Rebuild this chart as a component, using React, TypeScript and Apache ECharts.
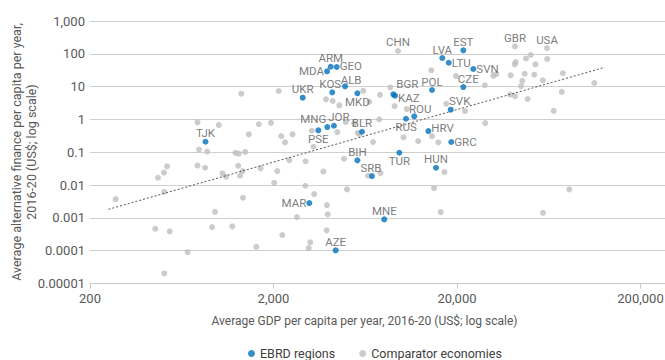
import React, { useEffect, useRef } from 'react';
import * as echarts from 'echarts';

// ---------- DATA ----------
const ebrdCodes = ['TJK','ARM','GEO','MDA','KOS','ALB','MKD','UKR','MNG','JOR','PSE','BLR','BGR','KAZ','ROU','RUS','BIH','SRB','TUR','EST','LVA','LTU','SVN','CZE','POL','SVK','HRV','GRC','HUN','MAR','MNE','AZE'];
const ebrdGdp = [852,4100,4420,3915,4180,4910,5730,2885,3930,4270,3510,6070,8990,9190,11700,10550,5730,6880,9700,21650,16630,18030,24550,21650,14620,18480,13960,18610,15370,3135,8030,4365];
const ebrdFinance = [0.209,40.4,39.6,29.3,6.7,10.2,6.25,4.59,0.586,0.643,0.465,0.422,5.82,5.28,1.24,1.05,0.0566,0.0188,0.0966,128,74.5,53.5,34.4,9.72,7.88,1.98,0.443,0.205,0.0337,0.00283,0.0009,0.000102];

const namedComparatorCodes = ['CHN','GBR','USA'];
const namedComparatorGdp = [9540,41400,61900];
const namedComparatorFinance = [122,169,150];

const otherComparatorGdp = [
  276,469,506,526,508,454,544,508,681,771,785,870,771,847,960,925,1006,
  1335,2135,1663,1938,1467,2204,2538,2310,1242,1292,1402,1284,1701,2098,2440,2992,1055,1102,1314,1357,3736,3234,3304,4455,4950,5494,5754,5870,6970,7534,4846,7658,6546,3864,4204,4568,6166,6646,7612,8660,9142,10650,10230,12290,2018,2984,1364,3334,5030,3912,3948,2686,1193,2234,3898,1612,3174,3110,
  14490,19750,17490,22120,28360,28500,14620,15820,17100,31540,32760,39240,41260,41780,47540,50420,53560,62020,46760,52760,45380,44660,58700,75460,39000,41420,48560,74420,67300,112000,14990,16300,58840,81860
];
const otherComparatorFinance = [
  0.00374,0.0167,0.024,0.0372,0.00625,0.000466,0.000387,0.0000203,0.0000906,0.816,0.121,0.105,0.0393,0.0337,0.00153,0.000525,0.675,
  6.08,7.35,0.714,0.787,0.351,0.308,0.351,0.2,0.0959,0.0906,0.102,0.0387,0.0323,0.0267,0.057,0.0532,0.0226,0.0179,0.0192,0.0267,0.0258,0.452,0.147,0.413,0.834,0.76,0.393,0.359,0.205,1.007,0.0634,0.0232,0.0192,4.1,3.64,2.69,7.45,3.44,5.62,9.52,2.56,2.07,0.285,0.219,0.0117,0.00953,0.0041,0.00532,0.0074,0.00246,0.00128,0.00106,0.000551,0.000299,0.000416,0.000131,0.000179,0.00012,
  31.4,21,3.01,1.8,11,0.776,0.312,0.2,0.0249,21.3,24.2,22.1,47.9,56.2,71.9,91.9,47.9,69.4,24.7,23.1,15,10.3,15.6,25.6,5.74,5.1,4.19,6.94,1.83,12.9,0.00811,0.0015,0.00143,0.0074
];

const trendGdp = [252, 127600];
const trendFinance = [0.00182, 38.7];

const xTickValues = [200, 2000, 20000, 200000];
const xTickLabels = ['200', '2,000', '20,000', '200,000'];
const yTickValues = [0.00001, 0.0001, 0.001, 0.01, 0.1, 1, 10, 100, 1000];
const yTickLabels = ['0.00001', '0.0001', '0.001', '0.01', '0.1', '1', '10', '100', '1,000'];

const seriesNames = ['EBRD regions', 'Comparator economies'];
const xTitle = 'Average GDP per capita per year, 2016-20 (US$; log scale)';
const yTitleLines = ['Average alternative finance per capita per year,', '2016-20 (US$; log scale)'];

// ---------- STYLES ----------
const FONT = "Roboto, 'Liberation Sans', sans-serif";
const BLUE = '#0072BC';
const GREY = '#BFBFBF';
const TEXT = '#595959';

const labelPlacement: Record<string, { position: string; offset?: number[] }> = {
  TJK: { position: 'top' }, ARM: { position: 'top' }, GEO: { position: 'right', offset: [0, -1] }, MDA: { position: 'left' },
  KOS: { position: 'top', offset: [-2, 0] }, ALB: { position: 'top', offset: [6, 2] }, MKD: { position: 'bottom' },
  UKR: { position: 'top' }, MNG: { position: 'top', offset: [-14, 0] }, JOR: { position: 'top', offset: [5, 0] },
  PSE: { position: 'bottom' }, BLR: { position: 'top' }, BGR: { position: 'right', offset: [0, -10] },
  KAZ: { position: 'right', offset: [0, 2] }, ROU: { position: 'top', offset: [6, 1] }, RUS: { position: 'bottom' },
  BIH: { position: 'top' }, SRB: { position: 'top', offset: [-1, 0] }, TUR: { position: 'bottom' },
  EST: { position: 'top' }, LVA: { position: 'top' }, LTU: { position: 'right' }, SVN: { position: 'right' },
  CZE: { position: 'top', offset: [5, 0] }, POL: { position: 'top' }, SVK: { position: 'top', offset: [9, 0] },
  HRV: { position: 'right', offset: [0, -3] }, GRC: { position: 'right' }, HUN: { position: 'top' },
  MAR: { position: 'left' }, MNE: { position: 'top' }, AZE: { position: 'top' },
  CHN: { position: 'top' }, GBR: { position: 'top' }, USA: { position: 'top' },
};

function labelFor(code: string) {
  const p = labelPlacement[code] || { position: 'top' };
  const vertical = p.position === 'top' || p.position === 'bottom';
  return {
    show: true,
    position: p.position,
    offset: p.offset || [0, 0],
    distance: vertical ? -0.5 : 0,
    formatter: code,
    fontFamily: FONT,
    fontSize: 11.5,
    color: TEXT,
  };
}

export default function App() {
  const ref = useRef<HTMLDivElement>(null);

  useEffect(() => {
    if (!ref.current) return;
    const chart = echarts.init(ref.current, undefined, { renderer: 'svg' });

    const ebrdData = ebrdCodes.map((c, i) => ({
      name: c,
      value: [ebrdGdp[i], ebrdFinance[i]],
      label: labelFor(c),
    }));
    const compData: any[] = namedComparatorCodes.map((c, i) => ({
      name: c,
      value: [namedComparatorGdp[i], namedComparatorFinance[i]],
      label: labelFor(c),
    }));
    otherComparatorGdp.forEach((g, i) => {
      compData.push({ value: [g, otherComparatorFinance[i]] });
    });

    const option: any = {
      animation: false,
      backgroundColor: '#ffffff',
      textStyle: { fontFamily: FONT },
      grid: { left: 90, right: 0, top: 21, bottom: 76.5, containLabel: false, outerBoundsMode: 'none' },
      graphic: yTitleLines.map((t, i) => ({
        type: 'text',
        x: 16 + i * 15,
        y: 152,
        rotation: Math.PI / 2,
        silent: true,
        style: {
          text: t,
          fontFamily: FONT,
          fontSize: 12.5,
          fill: TEXT,
          align: 'center',
          verticalAlign: 'middle',
        },
      })),
      legend: {
        data: seriesNames,
        left: 243,
        top: 342,
        icon: 'circle',
        itemWidth: 7,
        itemHeight: 7,
        itemGap: 24,
        textStyle: { fontFamily: FONT, fontSize: 12.5, color: '#404040' },
      },
      xAxis: {
        type: 'log',
        logBase: 10,
        min: 200,
        max: 272000,
        name: xTitle,
        nameLocation: 'middle',
        nameGap: 31,
        nameTextStyle: { fontFamily: FONT, fontSize: 12, color: TEXT, padding: [0, 26, 0, 0] },
        axisLine: { show: true, onZero: false, lineStyle: { color: '#c8c8c8', width: 1 } },
        axisTick: { show: true, length: 5, customValues: xTickValues, lineStyle: { color: '#c8c8c8' } },
        axisLabel: {
          customValues: xTickValues,
          margin: 8,
          fontFamily: FONT,
          fontSize: 13,
          color: TEXT,
          formatter: (v: number) => xTickLabels[Math.round(Math.log10(v / 200))] ?? '',
        },
        splitLine: { show: false },
        minorTick: { show: false },
      },
      yAxis: {
        type: 'log',
        logBase: 10,
        min: 0.00001,
        max: 1000,
        axisLine: { show: false },
        axisTick: { show: false, customValues: yTickValues },
        axisLabel: {
          customValues: yTickValues,
          margin: 5,
          fontFamily: FONT,
          fontSize: 13,
          color: TEXT,
          formatter: (v: number) => yTickLabels[Math.round(Math.log10(v)) + 5] ?? '',
        },
        splitLine: { show: true, lineStyle: { color: '#cfcfcf', width: 1 } },
      },
      series: [
        {
          name: seriesNames[1],
          type: 'scatter',
          symbol: 'circle',
          symbolSize: 6,
          itemStyle: { color: GREY },
          label: { show: false },
          data: compData,
          z: 2,
        },
        {
          name: 'Trend',
          type: 'line',
          symbol: 'none',
          silent: true,
          lineStyle: { color: '#555555', width: 1, type: [2, 2] },
          data: trendGdp.map((g, i) => [g, trendFinance[i]]),
          z: 3,
        },
        {
          name: seriesNames[0],
          type: 'scatter',
          symbol: 'circle',
          symbolSize: 6,
          itemStyle: { color: BLUE },
          data: ebrdData,
          z: 4,
        },
      ],
    };

    chart.setOption(option);
    return () => chart.dispose();
  }, []);

  return (
    <div
      ref={ref}
      style={{ position: 'fixed', left: 0, top: 0, width: 665, height: 360, background: '#fff' }}
    />
  );
}
